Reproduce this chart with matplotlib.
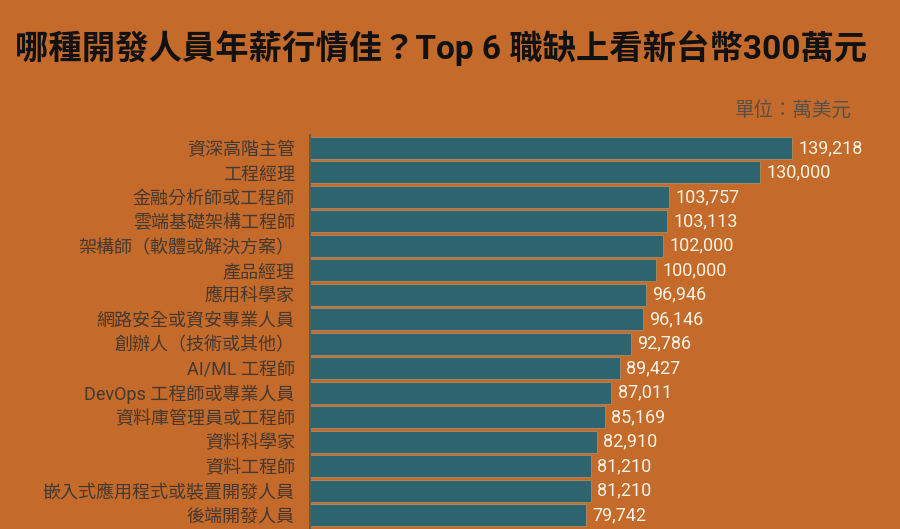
import matplotlib
matplotlib.use('Agg')
import matplotlib.pyplot as plt

bg_color = '#c46a2a'
bar_color = '#2e6370'
label_color = '#45392f'

roles = ['資深高階主管', '工程經理', '金融分析師或工程師', '雲端基礎架構工程師',
         '架構師（軟體或解決方案）', '產品經理', '應用科學家', '網路安全或資安專業人員',
         '創辦人（技術或其他）', 'AI/ML 工程師', 'DevOps 工程師或專業人員',
         '資料庫管理員或工程師', '資料科學家', '資料工程師',
         '嵌入式應用程式或裝置開發人員', '後端開發人員']
salaries = [139218, 130000, 103757, 103113, 102000, 100000, 96946, 96146,
            92786, 89427, 87011, 85169, 82910, 81210, 81210, 79742]

fonts = ['Roboto', 'Noto Sans CJK TC', 'DejaVu Sans']
plt.rcParams['font.family'] = fonts

fig = plt.figure(figsize=(9.0, 5.29), dpi=100, facecolor=bg_color)
ax = fig.add_axes([310 / 900, 0.0, 570 / 900, 1 - 135 / 529])
ax.set_facecolor(bg_color)

ypos = list(range(len(roles)))
ax.barh(ypos, salaries, height=0.9, color=bar_color, edgecolor='#b08a60', linewidth=0.6)

for y, v in zip(ypos, salaries):
    ax.text(v + 1800, y, f'{v:,}', va='center', ha='left', fontsize=13, color='#fbf3e6')

ax.set_xlim(0, 164600)
ax.set_ylim(15.57, -0.53)
ax.set_yticks(ypos)
ax.set_yticklabels(roles, fontsize=13, color=label_color)
ax.tick_params(axis='y', length=0, pad=11)
ax.set_xticks([])
for side in ['top', 'right', 'bottom']:
    ax.spines[side].set_visible(False)
ax.spines['left'].set_color('#3b5b62')
ax.spines['left'].set_linewidth(1.2)

fig.text(0.49, 1 - 48 / 529, '哪種開發人員年薪行情佳？Top 6 職缺上看新台幣300萬元',
         ha='center', va='center', fontsize=24, fontweight='bold', color='#111111')
fig.text(852 / 900, 1 - 110 / 529, '單位：萬美元', ha='right', va='center',
         fontsize=14, color='#555049')

fig.savefig('out.png', dpi=100, facecolor=bg_color)
